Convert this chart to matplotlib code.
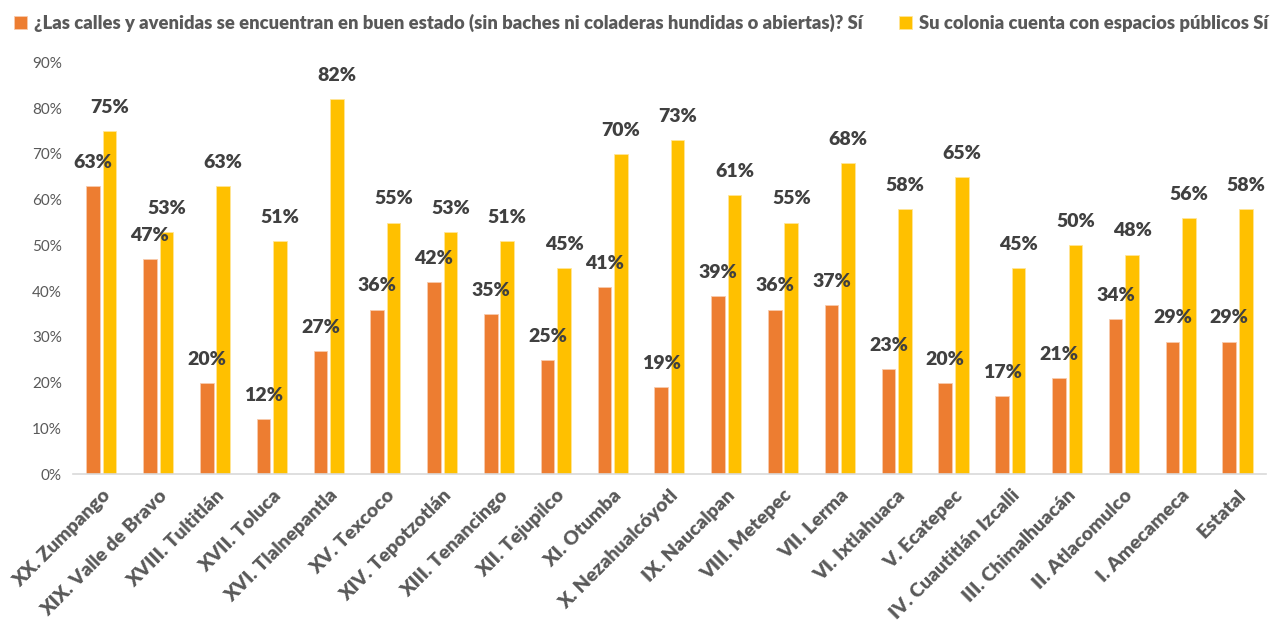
import matplotlib.pyplot as plt
import numpy as np

regiones = ["XX. Zumpango", "XIX. Valle de Bravo", "XVIII. Tultitlán", "XVII. Toluca",
            "XVI. Tlalnepantla", "XV. Texcoco", "XIV. Tepotzotlán", "XIII. Tenancingo",
            "XII. Tejupilco", "XI. Otumba", "X. Nezahualcóyotl", "IX. Naucalpan",
            "VIII. Metepec", "VII. Lerma", "VI. Ixtlahuaca", "V. Ecatepec",
            "IV. Cuautitlán Izcalli", "III. Chimalhuacán", "II. Atlacomulco",
            "I. Amecameca", "Estatal"]
calles = [63, 47, 20, 12, 27, 36, 42, 35, 25, 41, 19, 39, 36, 37, 23, 20, 17, 21, 34, 29, 29]
espacios = [75, 53, 63, 51, 82, 55, 53, 51, 45, 70, 73, 61, 55, 68, 58, 65, 45, 50, 48, 56, 58]
series_names = ["¿Las calles y avenidas se encuentran en buen estado (sin baches ni coladeras hundidas o abiertas)? Sí",
                "Su colonia cuenta con espacios públicos Sí"]

plt.rcParams['font.family'] = ['Lato', 'DejaVu Sans']

fig = plt.figure(figsize=(12.8, 6.24), dpi=100)
ax = fig.add_axes([0.057, 0.24, 0.932, 0.66])

x = np.arange(len(regiones))
w = 0.24
off = 0.145
b1 = ax.bar(x - off, np.array(calles) / 100, w, color='#ED7D31', edgecolor='#F8CBAD', linewidth=0.6,
            label=series_names[0])
b2 = ax.bar(x + off, np.array(espacios) / 100, w, color='#FFC000', edgecolor='#FFE699', linewidth=0.6,
            label=series_names[1])

# etiquetas de valor sobre cada barra
for xi, v in zip(x - off, calles):
    ax.text(xi, v / 100 + 0.033, f"{v}%", ha='center', va='bottom', fontsize=14,
            fontweight='heavy', color='#404040')
for xi, v in zip(x + off, espacios):
    ax.text(xi, v / 100 + 0.033, f"{v}%", ha='center', va='bottom', fontsize=14,
            fontweight='heavy', color='#404040')

ax.set_xlim(-0.5, len(regiones) - 0.5)
ax.set_ylim(0, 0.9)
ax.set_yticks(np.arange(0, 0.91, 0.1))
ax.set_yticklabels([f"{int(round(t * 100))}%" for t in np.arange(0, 0.91, 0.1)])
ax.tick_params(axis='y', length=0, labelsize=11, labelcolor='#595959', pad=8)
ax.set_xticks(x)
ax.set_xticklabels(regiones, rotation=45, ha='right', rotation_mode='anchor',
                   fontsize=14, fontweight='heavy', color='#595959')
ax.tick_params(axis='x', length=0, pad=9)

for s in ['top', 'right', 'left']:
    ax.spines[s].set_visible(False)
ax.spines['bottom'].set_color('#D9D9D9')
ax.spines['bottom'].set_linewidth(1.2)

leg = fig.legend(handles=[b1, b2], loc='upper left', bbox_to_anchor=(0.0, 1.0), ncol=2, frameon=False,
                 fontsize=13.2, handlelength=0.7, handleheight=0.7, handletextpad=0.4, columnspacing=2.0,
                 borderaxespad=0.35)
for t in leg.get_texts():
    t.set_color('#595959')
    t.set_fontweight('heavy')

fig.savefig('out.png', dpi=100)
